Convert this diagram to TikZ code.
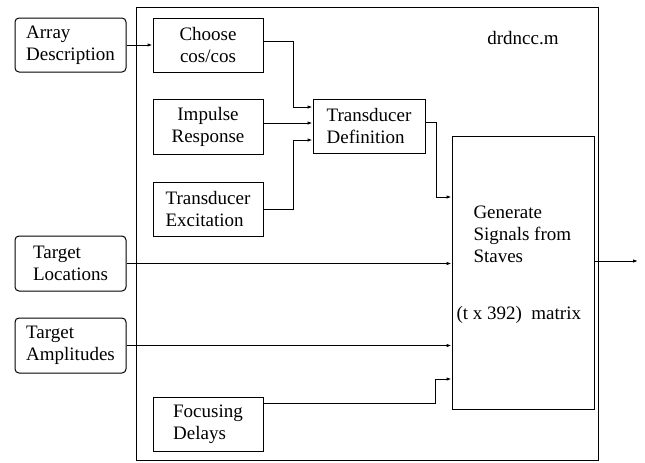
\documentclass[tikz,border=0pt]{standalone}
\usepackage{fontspec}
\setmainfont{Liberation Serif}
\usetikzlibrary{arrows.meta}

\tikzset{
  blk/.style={draw,inner sep=0pt,minimum width=110pt,minimum height=54pt,align=left},
  inp/.style={blk,rounded corners=4pt,minimum width=111pt},
}

\begin{document}
\begin{tikzpicture}[x=1pt,y=-1pt,font=\fontsize{19}{22}\selectfont,>={Latex[length=5pt,width=3.5pt]},line width=1pt]
			\useasboundingbox (0,0) rectangle (645,463);
			\draw (367,233.5) node [draw,minimum width=462pt,minimum height=453pt] (mfile) {};
			\draw (523,38) node (mname) {drdncc.m};
			\draw (70.5,45) node [inp] (arr) {Array\\Description};
			\draw (70.5,263.5) node [inp,minimum height=55pt] (tloc) {Target\\Locations};
			\draw (70.5,345.5) node [inp,minimum height=55pt] (tamp) {Target\\Amplitudes};
			\draw (208,45) node [blk,align=center] (choose) {Choose\\cos/cos};
			\draw (208,126.5) node [blk,align=center,minimum height=55pt] (impulse) {Impulse\\Response};
			\draw (208,209) node [blk] (excite) {Transducer\\Excitation};
			\draw (208,424) node [blk] (focus) {Focusing\\Delays};
			\draw (369,126) node [blk,minimum width=112pt] (tdef) {Transducer\\Definition};
			\draw (523,272.5) node [blk,minimum width=142pt,minimum height=273pt] (gen) {};
			\draw (473,234) node [anchor=west,align=left,inner sep=0pt] (gentext) {Generate\\Signals from\\Staves};
			\draw (456,315) node [anchor=west,inner sep=0pt] (genmat) {(t x 392)~~matrix};
			\coordinate (tin) at ([yshift=3pt]tdef.west);
			\coordinate (out) at (638,261);
			\path[->]
				(arr) edge (choose)
				(tin -| impulse.east) edge (tin)
				(tloc) edge (tloc -| gen.west)
				(tamp) edge (tamp -| gen.west)
				([yshift=11.5pt]gen.east) edge (out);
			\draw[->] ([yshift=4pt]choose.east) -- ++(30,0) |- ([yshift=19pt]tdef.west);
			\draw[->] (excite.east) -- ++(30,0) |- ([yshift=-14pt]tdef.west);
			\draw[->] ([yshift=4pt]tdef.east) -- ++(11,0) |- ([yshift=75.5pt]gen.west);
			\draw[->] ([yshift=21pt]focus.east) -- ++(172,0) |- ([yshift=-106.5pt]gen.west);
		\end{tikzpicture}
\end{document}
